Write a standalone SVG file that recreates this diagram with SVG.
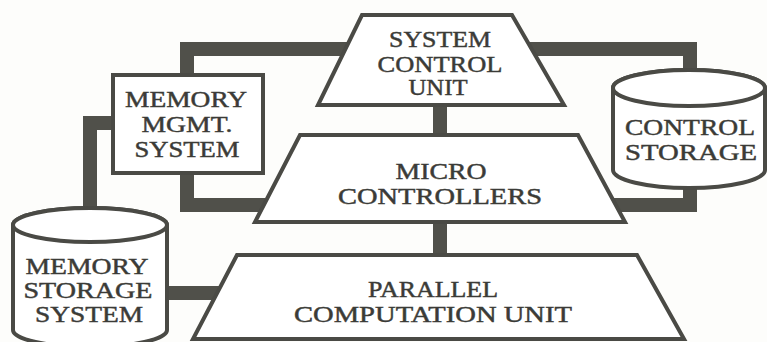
<svg xmlns="http://www.w3.org/2000/svg" width="767" height="342" viewBox="0 0 767 342">
  <style>
    .shape { fill: #ffffff; stroke: #4a4a45; stroke-width: 4; stroke-linejoin: miter; }
    .bar { fill: none; stroke: #50504a; stroke-width: 14; stroke-linejoin: miter; stroke-linecap: butt; }
    text { font-family: "Liberation Serif", "Times New Roman", serif; font-size: 23px; fill: #3b3b37; stroke: #3b3b37; stroke-width: 0.45; text-anchor: middle; }
  </style>

  <rect x="0" y="0" width="767" height="342" fill="#fdfdfb"/>

  <!-- thick data paths between the units -->
  <g id="connectors">
    <path class="bar" d="M187,80 V49 H352"/>
    <path class="bar" d="M522,49 H690 V76"/>
    <path class="bar" d="M440,100 V140"/>
    <path class="bar" d="M440,218 V259"/>
    <path class="bar" d="M118,123 H90 V215"/>
    <path class="bar" d="M187,168 V205 H272"/>
    <path class="bar" d="M608,205 H690 V180"/>
    <path class="bar" d="M160,293 H224"/>
  </g>

  <g id="system-control-unit">
    <polygon class="shape" points="362,15 512,15 564,105 318,105"/>
    <text x="440" y="47" textLength="102" lengthAdjust="spacingAndGlyphs">SYSTEM</text>
    <text x="440" y="72" textLength="125" lengthAdjust="spacingAndGlyphs">CONTROL</text>
    <text x="438" y="95" textLength="59" lengthAdjust="spacingAndGlyphs">UNIT</text>
  </g>

  <g id="memory-mgmt-system">
    <rect class="shape" x="113" y="75" width="150" height="98"/>
    <text x="186" y="107" textLength="122" lengthAdjust="spacingAndGlyphs">MEMORY</text>
    <text x="187" y="132" textLength="91" lengthAdjust="spacingAndGlyphs">MGMT.</text>
    <text x="187" y="157" textLength="105" lengthAdjust="spacingAndGlyphs">SYSTEM</text>
  </g>

  <g id="micro-controllers">
    <polygon class="shape" points="300,135 578,135 625,222 255,222"/>
    <text x="441" y="179" textLength="91" lengthAdjust="spacingAndGlyphs">MICRO</text>
    <text x="440" y="204" textLength="204" lengthAdjust="spacingAndGlyphs">CONTROLLERS</text>
  </g>

  <g id="control-storage">
    <path class="shape" d="M613,88 A76,18 0 0 1 765,88 V170 A76,18 0 0 1 613,170 Z"/>
    <ellipse class="shape" cx="689" cy="88" rx="76" ry="18"/>
    <text x="690" y="135" textLength="130" lengthAdjust="spacingAndGlyphs">CONTROL</text>
    <text x="691" y="160" textLength="132" lengthAdjust="spacingAndGlyphs">STORAGE</text>
  </g>

  <g id="memory-storage-system">
    <path class="shape" d="M13,225 A77,17 0 0 1 167,225 V330 A77,17 0 0 1 13,330 Z"/>
    <ellipse class="shape" cx="90" cy="225" rx="77" ry="17"/>
    <text x="87" y="274" textLength="123" lengthAdjust="spacingAndGlyphs">MEMORY</text>
    <text x="88" y="298" textLength="129" lengthAdjust="spacingAndGlyphs">STORAGE</text>
    <text x="89" y="322" textLength="108" lengthAdjust="spacingAndGlyphs">SYSTEM</text>
  </g>

  <g id="parallel-computation-unit">
    <polygon class="shape" points="237,255 637,255 684,339 193,339"/>
    <text x="433" y="297" textLength="130" lengthAdjust="spacingAndGlyphs">PARALLEL</text>
    <text x="433" y="322" textLength="278" lengthAdjust="spacingAndGlyphs">COMPUTATION UNIT</text>
  </g>
</svg>
